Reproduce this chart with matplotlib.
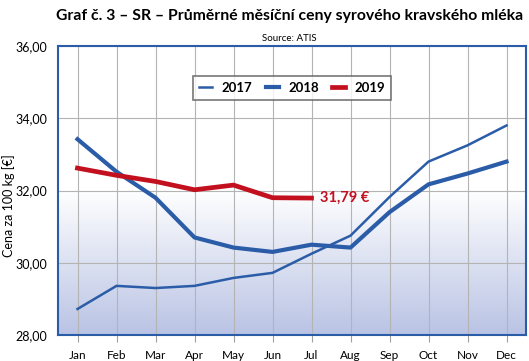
import numpy as np
import matplotlib.pyplot as plt
from matplotlib.colors import LinearSegmentedColormap

months = ["Jan", "Feb", "Mar", "Apr", "May", "Jun", "Jul", "Aug", "Sep", "Oct", "Nov", "Dec"]
y2017 = [28.72, 29.36, 29.30, 29.36, 29.58, 29.72, 30.25, 30.75, 31.82, 32.80, 33.25, 33.80]
y2018 = [33.42, 32.52, 31.80, 30.70, 30.42, 30.30, 30.50, 30.42, 31.40, 32.17, 32.47, 32.80]
y2019 = [32.62, 32.42, 32.25, 32.02, 32.15, 31.80, 31.79]
last_label = "31,79 €"

plt.rcParams['font.family'] = ['Lato', 'DejaVu Sans']

blue = "#2b5ca8"
red = "#c3101f"

fig = plt.figure(figsize=(5.29, 3.61), dpi=100)
ax = fig.add_axes([58 / 529, 1 - 335 / 361, 468 / 529, 289 / 361])

x = np.arange(len(months))
ax.set_xlim(-0.5, 11.5)
ax.set_ylim(28, 36)

# gradient background below 32
cmap = LinearSegmentedColormap.from_list("bg", ["#b9c3e4", "#ffffff"])
grad = np.linspace(0, 1, 256).reshape(-1, 1)
ax.imshow(grad, cmap=cmap, aspect="auto", extent=(-0.5, 11.5, 28, 32),
          origin="lower", zorder=0)

ax.plot(x, y2017, color=blue, lw=1.8, label="2017", zorder=3)
ax.plot(x, y2018, color=blue, lw=3.0, label="2018", zorder=3)
ax.plot(x[:len(y2019)], y2019, color=red, lw=3.4, label="2019", zorder=4)

ax.text(x[len(y2019) - 1] + 0.22, y2019[-1], last_label, color=red,
        fontsize=10.5, fontweight="bold", va="center", ha="left")

ax.set_xticks(x)
ax.set_xticklabels(months, fontsize=8.5)
ax.set_yticks([28, 30, 32, 34, 36])
ax.set_yticklabels(["28,00", "30,00", "32,00", "34,00", "36,00"], fontsize=9)
ax.tick_params(axis="x", length=5, color="#a0a0a0", pad=6)
ax.tick_params(axis="y", length=0, pad=8)
ax.grid(True, color="#b4b4b4", lw=0.8, zorder=1)
ax.set_axisbelow(True)
for s in ax.spines.values():
    s.set_color(blue)
    s.set_linewidth(1.5)

fig.text(9 / 529, 0.43, "Cena za 100 kg [€]", rotation=90, ha="center", va="center",
         fontsize=9)

leg = ax.legend(loc="upper left", bbox_to_anchor=(0.275, 0.92), ncol=3,
                fontsize=9.5, frameon=True, fancybox=False, handlelength=1.0,
                handletextpad=0.7, columnspacing=1.0, borderpad=0.45)
leg.get_frame().set_edgecolor("#555555")
leg.get_frame().set_linewidth(1.2)
for t in leg.get_texts():
    t.set_fontweight("bold")

fig.text(0.547, 0.975, "Graf č. 3 – SR – Průměrné měsíční ceny syrového kravského mléka",
         ha="center", va="top", fontsize=11.3, fontweight="bold")
fig.text(0.547, 0.905, "Source: ATIS", ha="center", va="top", fontsize=7)

fig.savefig("out.png", dpi=100)
